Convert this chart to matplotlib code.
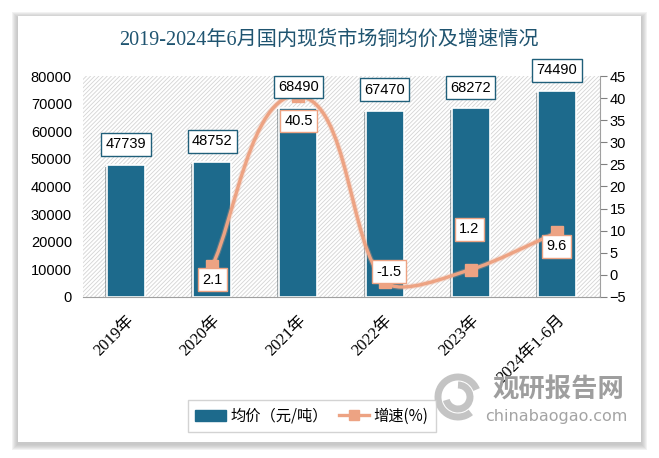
import matplotlib
matplotlib.use('Agg')
import matplotlib.pyplot as plt
import matplotlib.patheffects as pe
import numpy as np
from matplotlib.patches import Rectangle, Arc, Patch, PathPatch
from matplotlib.path import Path
from matplotlib.lines import Line2D

plt.rcParams['font.family'] = ['Liberation Sans', 'Noto Sans CJK SC']
plt.rcParams['hatch.linewidth'] = 0.6

# data
categories = ['2019年', '2020年', '2021年', '2022年', '2023年', '2024年1-6月']
price = [47739, 48752, 68490, 67470, 68272, 74490]
growth_idx = [1, 2, 3, 4, 5]
growth = [2.1, 40.5, -1.5, 1.2, 9.6]

BAR = '#1d6a8c'
LINE = '#eda383'
TITLE_C = '#1f5470'

fig = plt.figure(figsize=(6.59, 4.58), dpi=100)
fig.patch.set_facecolor('white')

# card with soft shadow
W, H = 659, 458
for i, a in enumerate([0.05, 0.045, 0.04, 0.035, 0.03, 0.025]):
    g = 6 - i
    fig.patches.append(Rectangle(((18 - g) / W, (458 - 442 - g - 2) / H),
                                 (623 + 2 * g) / W, (426 + 2 * g) / H,
                                 transform=fig.transFigure, facecolor='black',
                                 alpha=a, lw=0, zorder=0))
fig.patches.append(Rectangle((18 / W, (458 - 442) / H), 623 / W, 426 / H,
                             transform=fig.transFigure, facecolor='white',
                             lw=0, zorder=1))

ax = fig.add_axes([83 / W, (458 - 297) / H, 517 / W, 221 / H])
ax.set_zorder(2)
ax.patch.set_alpha(0)
bg = Rectangle((0, 0), 1, 1, transform=ax.transAxes, facecolor='white',
               edgecolor='#d4d4d4', hatch='////////', lw=0, zorder=0)
ax.add_patch(bg)

x = list(range(len(categories)))
bars = ax.bar(x, price, width=0.44, color=BAR, edgecolor='white', lw=1.2, zorder=2)
for b in bars:
    b.set_path_effects([pe.SimplePatchShadow(offset=(-1.5, -1), alpha=0.35), pe.Normal()])

ax.set_xlim(-0.5, len(categories) - 0.5)
ax.set_ylim(0, 80000)
ax.set_yticks(range(0, 80001, 10000))
ax.tick_params(axis='y', length=0, pad=8, labelsize=10.5, colors='black')
ax.set_xticks(x)
ax.set_xticklabels(categories, rotation=45, ha='right', rotation_mode='anchor',
                   family=['Liberation Serif', 'Noto Sans CJK SC'], fontsize=12)
ax.tick_params(axis='x', length=0, pad=11)
for s in ['top', 'left', 'right']:
    ax.spines[s].set_visible(False)
ax.spines['bottom'].set_color('#a0a0a0')

ax2 = ax.twinx()
ax2.set_zorder(3)
ax2.set_ylim(-5, 45)
ax2.set_yticks(range(-5, 46, 5))
ax2.tick_params(axis='y', length=5, color='#808080', labelsize=10.5, pad=2)
for s in ['top', 'left', 'bottom']:
    ax2.spines[s].set_visible(False)
ax2.spines['right'].set_color('#a0a0a0')

# bar value labels go on top of the line layer
for xi, v in zip(x, price):
    ax2.annotate(str(v), (xi, v), xycoords=ax.transData, xytext=(0, 15),
                 textcoords='offset points', ha='center', va='center',
                 fontsize=10.5, zorder=6,
                 bbox=dict(boxstyle='square,pad=0.3', fc='white', ec='#1f5f7a', lw=1))

# smoothed line, control points worked out in screen space
pts = ax2.transData.transform(np.column_stack([growth_idx, growth]))
k = 0.25
verts = [pts[0]]
codes = [Path.MOVETO]
for i in range(len(pts) - 1):
    p0 = pts[i - 1] if i > 0 else pts[i]
    p1, p2 = pts[i], pts[i + 1]
    p3 = pts[i + 2] if i + 2 < len(pts) else pts[i + 1]
    seg = np.linalg.norm(p2 - p1)
    t1 = (p2 - p0) / np.linalg.norm(p2 - p0)
    t2 = (p3 - p1) / np.linalg.norm(p3 - p1)
    verts += [p1 + t1 * seg * k, p2 - t2 * seg * k, p2]
    codes += [Path.CURVE4] * 3
verts = ax2.transData.inverted().transform(np.array(verts))
curve = PathPatch(Path(verts, codes), fill=False, edgecolor=LINE, lw=2.4, zorder=3,
                  path_effects=[pe.Stroke(linewidth=4, foreground=LINE, alpha=0.3), pe.Normal()])
ax2.add_patch(curve)
ax2.plot(growth_idx, growth, ls='none', marker='s', ms=8, color=LINE, zorder=4)

growth_offsets = [(0, -10), (0, -18), (3, 7), (-1, 29), (0, -10)]
for xi, v, off in zip(growth_idx, growth, growth_offsets):
    ax2.annotate(str(v), (xi, v), xytext=off, textcoords='offset points',
                 ha='center', va='center', fontsize=10.5, zorder=5,
                 bbox=dict(boxstyle='square,pad=0.3', fc='white', ec=LINE, lw=1))

fig.text(329 / W, 1 - 40 / H, '2019-2024年6月国内现货市场铜均价及增速情况',
         ha='center', va='center', fontsize=14.5, color=TITLE_C,
         family=['Liberation Serif', 'Noto Sans CJK SC'], zorder=5)

# watermark
fig.text(558 / W, 1 - 390 / H, '观研报告网', ha='center', va='center', fontsize=19,
         fontweight='bold', color='#9e9e9e', family=['Noto Sans CJK SC'], zorder=5)
fig.text(556 / W, 1 - 417 / H, 'chinabaogao.com', ha='center', va='center', fontsize=11.5,
         color='#a4a4a4', family=['DejaVu Sans'], zorder=5)
for r, th in [(20, (30, 300)), (12, (200, 450))]:
    fig.patches.append(Arc((458 / W, 1 - 397 / H), 2 * r / W, 2 * r / H,
                           theta1=th[0], theta2=th[1], transform=fig.transFigure,
                           color='#c4c4c4', lw=5, zorder=4))

handles = [Patch(facecolor=BAR, edgecolor=BAR),
           Line2D([0], [0], color=LINE, lw=2.4, marker='s', ms=7)]
leg = fig.legend(handles, ['均价（元/吨）', '增速(%)'], loc='center',
                 bbox_to_anchor=(312 / W, 1 - 416 / H), ncol=2, frameon=True,
                 fancybox=False, edgecolor='#c8c8c8',
                 handlelength=2.0, handletextpad=0.3, columnspacing=0.7,
                 borderpad=0.5, borderaxespad=0,
                 prop={'family': ['Noto Sans CJK SC'], 'size': 11})
leg.set_zorder(6)

fig.savefig('out.png', dpi=100, facecolor='white')
